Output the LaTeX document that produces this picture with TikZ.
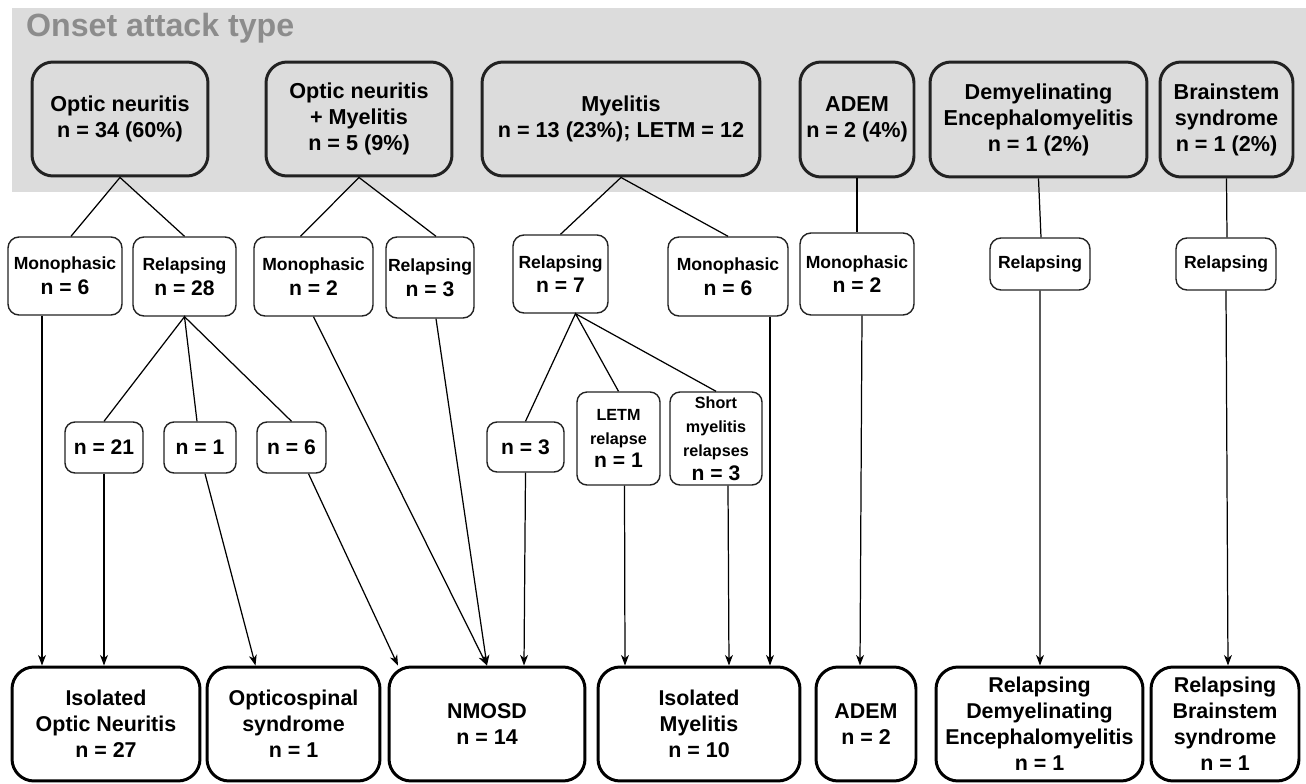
\documentclass[tikz,border=0pt]{standalone}
\usepackage{fontspec}
\setmainfont{Liberation Sans}
\usetikzlibrary{arrows.meta,calc}

\definecolor{bandgrey}{HTML}{DCDCDC}
\definecolor{titlegrey}{HTML}{8C8C8C}
\definecolor{framegrey}{HTML}{222222}

\newcommand\nline{\fontsize{12}{14.5}\selectfont}

\tikzset{
  topbox/.style={draw=framegrey,line width=1.7pt,rounded corners=0.42cm,fill=bandgrey,
    align=center,inner sep=0pt,font=\fontsize{12.3}{14.8}\selectfont\bfseries},
  midbox/.style={draw=framegrey,line width=0.8pt,rounded corners=0.22cm,fill=white,
    align=center,inner sep=0pt,font=\fontsize{10}{14}\selectfont\bfseries},
  smallbox/.style={draw=framegrey,line width=0.8pt,rounded corners=0.2cm,fill=white,
    align=center,inner sep=0pt,font=\fontsize{9.2}{13.6}\selectfont\bfseries},
  endbox/.style={draw=black,line width=1.7pt,rounded corners=0.44cm,fill=white,
    align=center,inner sep=0pt,font=\fontsize{12.2}{14.8}\selectfont\bfseries},
  link/.style={line width=0.7pt},
  flow/.style={line width=0.7pt,-{Stealth[length=6pt,width=4.5pt,inset=1.8pt]}}
}

\begin{document}
\begin{tikzpicture}[x=0.02cm,y=-0.02cm]
  \useasboundingbox (0,0) rectangle (1306,784);
  \fill[bandgrey] (12,8) rectangle (1306,192);
  \node[anchor=west,text=titlegrey,font=\fontsize{18.3}{21}\selectfont\bfseries] (title)
    at (20,28) {Onset attack type};

  % onset attacks
  \node[topbox,minimum width=3.52cm,minimum height=2.28cm] (on) at (120,119)
    {Optic neuritis\\n = 34 (60\%)};
  \node[topbox,minimum width=3.72cm,minimum height=2.28cm] (onm) at (359,119)
    {Optic neuritis\\+ Myelitis\\n = 5 (9\%)};
  \node[topbox,minimum width=5.56cm,minimum height=2.28cm] (mye) at (621,119)
    {Myelitis\\n = 13 (23\%); LETM = 12};
  \node[topbox,minimum width=2.28cm,minimum height=2.3cm] (adem) at (857,119.5)
    {ADEM\\n = 2 (4\%)};
  \node[topbox,minimum width=4.34cm,minimum height=2.3cm] (dem) at (1038.5,119.5)
    {Demyelinating\\Encephalomyelitis\\n = 1 (2\%)};
  \node[topbox,minimum width=2.66cm,minimum height=2.3cm] (bs) at (1226.5,119.5)
    {Brainstem\\syndrome\\n = 1 (2\%)};

  % course
  \node[midbox,minimum width=2.28cm,minimum height=1.56cm] (mono1) at (65,276)
    {Monophasic\\{\nline n = 6}};
  \node[midbox,minimum width=2.06cm,minimum height=1.58cm] (rel1) at (184.5,276.5)
    {Relapsing\\{\nline n = 28}};
  \node[midbox,minimum width=2.38cm,minimum height=1.58cm] (mono2) at (313.5,276.5)
    {Monophasic\\{\nline n = 2}};
  \node[midbox,minimum width=1.76cm,minimum height=1.62cm] (rel2) at (430,277.5)
    {Relapsing\\{\nline n = 3}};
  \node[midbox,minimum width=1.9cm,minimum height=1.56cm] (rel3) at (560.5,274)
    {Relapsing\\{\nline n = 7}};
  \node[midbox,minimum width=2.4cm,minimum height=1.58cm] (mono3) at (728,276.5)
    {Monophasic\\{\nline n = 6}};
  \node[midbox,minimum width=2.28cm,minimum height=1.64cm] (mono4) at (857,274)
    {Monophasic\\{\nline n = 2}};
  \node[midbox,minimum width=2cm,minimum height=1.04cm] (rel4) at (1040,264) {Relapsing};
  \node[midbox,minimum width=2cm,minimum height=1.04cm] (rel5) at (1226,264) {Relapsing};

  % relapse split
  \node[smallbox,minimum width=1.56cm,minimum height=1.02cm,font=\nline\bfseries] (on21) at (104,447.5) {n = 21};
  \node[smallbox,minimum width=1.44cm,minimum height=1.02cm,font=\nline\bfseries] (osp1) at (200,447.5) {n = 1};
  \node[smallbox,minimum width=1.38cm,minimum height=1.02cm,font=\nline\bfseries] (nmo6) at (291.5,447.5) {n = 6};
  \node[smallbox,minimum width=1.54cm,minimum height=1cm,font=\nline\bfseries] (my3) at (525.5,447) {n = 3};
  \node[smallbox,minimum width=1.66cm,minimum height=1.86cm] (letm) at (618.5,438.5)
    {LETM\\relapse\\{\nline n = 1}};
  \node[smallbox,minimum width=1.84cm,minimum height=1.86cm] (short) at (716,438.5)
    {Short\\myelitis\\relapses\\{\nline n = 3}};

  % final diagnosis
  \node[endbox,minimum width=3.76cm,minimum height=2.28cm] (ion) at (106,724)
    {Isolated\\Optic Neuritis\\n = 27};
  \node[endbox,minimum width=3.46cm,minimum height=2.28cm] (ocs) at (293.5,724)
    {Opticospinal\\syndrome\\n = 1};
  \node[endbox,minimum width=3.92cm,minimum height=2.28cm] (nmosd) at (487,724)
    {NMOSD\\n = 14};
  \node[endbox,minimum width=4.04cm,minimum height=2.28cm] (im) at (699,724)
    {Isolated\\Myelitis\\n = 10};
  \node[endbox,minimum width=2cm,minimum height=2.28cm] (adem2) at (866,724)
    {ADEM\\n = 2};
  \node[endbox,minimum width=4.14cm,minimum height=2.28cm] (rdem) at (1039.5,724)
    {Relapsing\\Demyelinating\\Encephalomyelitis\\n = 1};
  \node[endbox,minimum width=2.96cm,minimum height=2.28cm] (rbs) at (1225,724)
    {Relapsing\\Brainstem\\syndrome\\n = 1};

  % onset -> course
  \draw[link] ($(mono1.north)+(6,0)$) -- (on.south) -- (rel1.north);
  \draw[link] ($(mono2.north)+(-13,0)$) -- (onm.south) -- ($(rel2.north)+(6,0)$);
  \draw[link] (rel3.north) -- (mye.south) -- (mono3.north);
  \draw[link] (adem.south) -- (mono4.north);
  \draw[link] (dem.south) -- ($(rel4.north)+(1,0)$);
  \draw[link] (bs.south) -- ($(rel5.north)+(1,0)$);

  % relapse splits
  \draw[link] (on21.north) -- (rel1.south) -- ($(osp1.north)+(-3,0)$);
  \draw[link] (rel1.south) -- (nmo6.north);
  \draw[link] (my3.north) -- ($(rel3.south)+(15,0)$) -- (letm.north);
  \draw[link] ($(rel3.south)+(15,0)$) -- (short.north);

  % course -> diagnosis
  \draw[flow] ($(mono1.south)+(-23,0)$) -- ($(ion.north)+(-64,0)$);
  \draw[flow] (on21.south) -- ($(ion.north)+(-2,0)$);
  \draw[flow] ($(osp1.south)+(5,0)$) -- ($(ocs.north)+(-38,0)$);
  \draw[flow] ($(nmo6.south)+(17,0)$) -- ($(nmosd.north)+(-89,0)$);
  \draw[flow] (mono2.south) -- (nmosd.north);
  \draw[flow] ($(rel2.south)+(6,0)$) -- (nmosd.north);
  \draw[flow] (my3.south) -- ($(nmosd.north)+(37,0)$);
  \draw[flow] ($(letm.south)+(6,0)$) -- ($(im.north)+(-74,0)$);
  \draw[flow] ($(short.south)+(12,0)$) -- ($(im.north)+(30,0)$);
  \draw[flow] ($(mono3.south)+(42,0)$) -- ($(im.north)+(71,0)$);
  \draw[flow] ($(mono4.south)+(5,0)$) -- ($(adem2.north)+(-6,0)$);
  \draw[flow] (rel4.south) -- ($(rdem.north)+(0.5,0)$);
  \draw[flow] (rel5.south) -- ($(rbs.north)+(3,0)$);
\end{tikzpicture}
\end{document}
